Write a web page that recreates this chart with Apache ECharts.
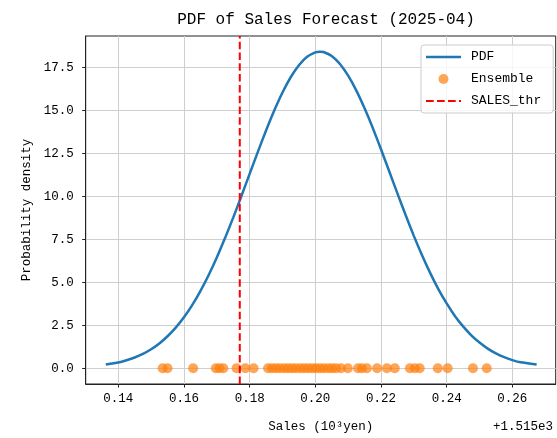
<!DOCTYPE html>
<html>
<head>
<meta charset="utf-8">
<script src="https://cdn.jsdelivr.net/npm/echarts@6/dist/echarts.min.js"></script>
<style>html,body{margin:0;padding:0;background:#fff;}#c{width:557px;height:438px;}</style>
</head>
<body>
<div id="c"></div>
<script>
// Offset shown by the axis ("+1.515e3"); x values below are relative to it.
var OFFSET_TEXT = '+1.515e3';
// PDF curve (x relative to 1515, density)
var pdfX = [0.1362, 0.1400, 0.1425, 0.1450, 0.1475, 0.1500, 0.1525, 0.1550, 0.1575, 0.1600,
  0.1625, 0.1650, 0.1675, 0.1700, 0.1725, 0.1750, 0.1775, 0.1800, 0.1825, 0.1850,
  0.1875, 0.1900, 0.1925, 0.1950, 0.1975, 0.2000, 0.2014, 0.2025, 0.2050, 0.2075,
  0.2100, 0.2125, 0.2150, 0.2175, 0.2200, 0.2225, 0.2250, 0.2275, 0.2300, 0.2325,
  0.2350, 0.2375, 0.2400, 0.2425, 0.2450, 0.2475, 0.2500, 0.2525, 0.2550, 0.2575,
  0.2600, 0.2625, 0.2674];
var pdfY = [0.21, 0.33, 0.46, 0.62, 0.83, 1.10, 1.44, 1.86, 2.36, 2.96,
  3.67, 4.49, 5.41, 6.44, 7.57, 8.76, 10.02, 11.31, 12.59, 13.83,
  14.99, 16.04, 16.93, 17.63, 18.12, 18.38, 18.42, 18.40, 18.17, 17.70,
  17.02, 16.15, 15.12, 13.98, 12.74, 11.46, 10.17, 8.91, 7.70, 6.57,
  5.53, 4.59, 3.77, 3.04, 2.43, 1.91, 1.49, 1.14, 0.86, 0.64,
  0.47, 0.34, 0.21];
// Ensemble members (all at density 0)
var ensemble = [0.1535, 0.1550, 0.1628, 0.1697, 0.1708, 0.1720, 0.1760, 0.1787, 0.1812,
  0.1856, 0.1868, 0.1880, 0.1892, 0.1905, 0.1917, 0.1929, 0.1941, 0.1954, 0.1966, 0.1978,
  0.1990, 0.2002, 0.2014, 0.2026, 0.2039, 0.2051, 0.2063, 0.2078, 0.2099, 0.2130, 0.2142,
  0.2157, 0.2188, 0.2218, 0.2242, 0.2288, 0.2303, 0.2318, 0.2373, 0.2403, 0.2480, 0.2522];
var SALES_THR = 0.1770;
var xTicks = [0.14, 0.16, 0.18, 0.20, 0.22, 0.24, 0.26];
var yTicks = [0, 2.5, 5, 7.5, 10, 12.5, 15, 17.5];
var X_MIN = 0.13008, X_MAX = 0.2732, Y_MIN = -0.92, Y_MAX = 19.33;

var FONT = "'Liberation Mono', 'DejaVu Sans Mono', monospace";
var pdfData = pdfX.map(function (x, i) { return [x, pdfY[i]]; });
var ensData = ensemble.map(function (x) { return [x, 0]; });
var thrData = [[SALES_THR, Y_MIN], [SALES_THR, Y_MAX]];

var chart = echarts.init(document.getElementById('c'), null, {renderer: 'canvas'});
chart.setOption({
  animation: false,
  backgroundColor: '#fff',
  title: {
    text: 'PDF of Sales Forecast (2025-04)',
    left: 321, top: 7, textAlign: 'center',
    textStyle: {fontFamily: FONT, fontSize: 16, fontWeight: 'normal', color: '#000'}
  },
  grid: {left: 85.7, right: 1.3, top: 36, bottom: 50.3, show: true, borderColor: '#222', borderWidth: 1, backgroundColor: 'transparent'},
  legend: {
    orient: 'vertical', left: 421, top: 45,
    itemWidth: 35, itemHeight: 10, itemGap: 8,
    padding: [5, 12, 5, 5],
    backgroundColor: 'rgba(255,255,255,0.8)', borderColor: '#cccccc', borderWidth: 1, borderRadius: 3,
    textStyle: {fontFamily: FONT, fontSize: 13, color: '#000', lineHeight: 14, padding: [0, 0, 0, 5]},
    data: [
      {name: 'PDF', icon: 'path://M0,0H35V2.5H0Z', itemStyle: {color: '#1f77b4'}},
      {name: 'Ensemble', icon: 'circle', itemStyle: {color: '#ff7f0e', opacity: 0.7}},
      {name: 'SALES_thr', icon: 'path://M0,0H7.7V2H0Z M11,0H18.7V2H11Z M22,0H29.7V2H22Z M33,0H35V2H33Z', itemStyle: {color: '#ff0000'}}
    ]
  },
  xAxis: {
    type: 'value', min: X_MIN, max: X_MAX,
    name: 'Sales (10³yen)', nameLocation: 'middle', nameGap: 36,
    nameTextStyle: {fontFamily: FONT, fontSize: 12.5, color: '#000'},
    axisLine: {show: true, onZero: false, lineStyle: {color: '#222', width: 1}},
    axisTick: {show: true, inside: false, length: 3.5, customValues: xTicks, lineStyle: {color: '#222'}},
    axisLabel: {customValues: xTicks, margin: 8, fontFamily: FONT, fontSize: 12.5, color: '#000',
      formatter: function (v) { return v.toFixed(2); }},
    splitLine: {show: true, lineStyle: {color: '#cfcfcf', width: 1}}
  },
  yAxis: {
    type: 'value', min: Y_MIN, max: Y_MAX,
    name: 'Probability density', nameLocation: 'middle', nameGap: 53, nameRotate: 90,
    nameTextStyle: {fontFamily: FONT, fontSize: 12.5, color: '#000'},
    axisLine: {show: true, onZero: false, lineStyle: {color: '#222', width: 1}},
    axisTick: {show: true, inside: false, length: 3.5, customValues: yTicks, lineStyle: {color: '#222'}},
    axisLabel: {customValues: yTicks, margin: 12, fontFamily: FONT, fontSize: 12.5, color: '#000',
      formatter: function (v) { return v.toFixed(1); }},
    splitLine: {show: true, lineStyle: {color: '#cfcfcf', width: 1}}
  },
  graphic: [{
    type: 'text', right: 4, top: 420,
    style: {text: OFFSET_TEXT, font: "12.5px 'Liberation Mono', monospace", fill: '#000'}
  }],
  series: [
    {name: 'PDF', type: 'line', data: pdfData, smooth: 0.2, symbol: 'none',
      lineStyle: {color: '#1f77b4', width: 2.5}, itemStyle: {color: '#1f77b4'}, z: 2},
    {name: 'Ensemble', type: 'scatter', data: ensData, symbol: 'circle', symbolSize: 10,
      itemStyle: {color: '#ff7f0e', opacity: 0.7}, z: 3},
    {name: 'SALES_thr', type: 'line', data: thrData, symbol: 'none',
      lineStyle: {color: '#ff0000', width: 2, type: [7.5, 3.3]}, itemStyle: {color: '#ff0000'}, z: 4}
  ]
});
</script>
</body>
</html>
